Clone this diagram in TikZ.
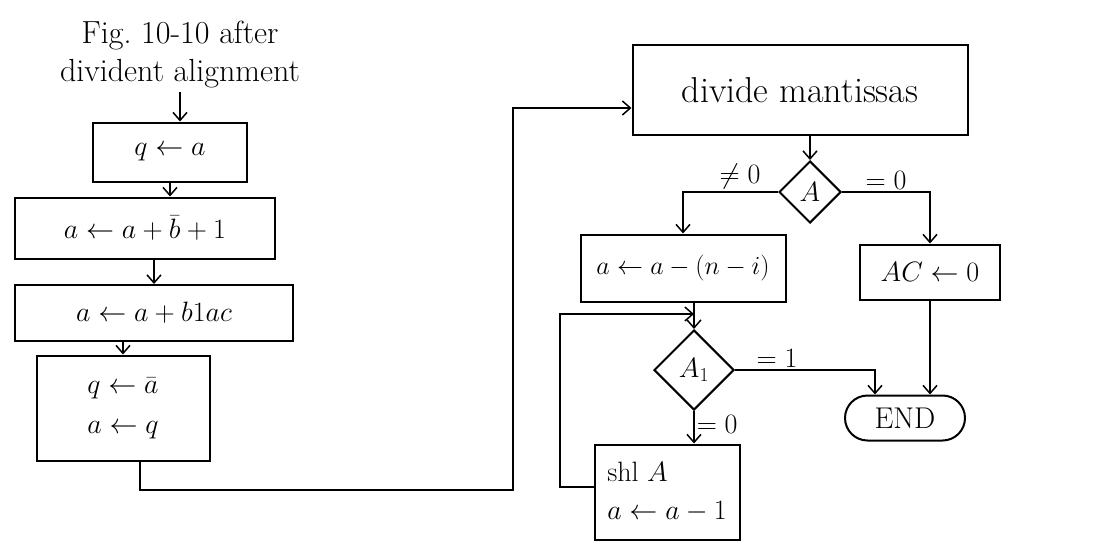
\RequirePackage{fix-cm}
\documentclass[tikz,border=0pt]{standalone}
\usepackage{amsmath}
\usetikzlibrary{arrows.meta,positioning,shapes.geometric,shapes.misc,calc}

\begin{document}
\begin{tikzpicture}[x=1pt, y=-1pt,
  proc/.style={draw, line width=2pt, align=center, inner sep=0pt,
    font=\fontsize{28}{34}\selectfont},
  test/.style={draw, diamond, aspect=1, line width=2pt, inner sep=0pt,
    font=\fontsize{28}{34}\selectfont},
  term/.style={draw, rounded rectangle, line width=2pt, inner sep=0pt,
    font=\fontsize{30}{36}\selectfont},
  note/.style={align=center, font=\fontsize{32}{38}\selectfont},
  lbl/.style={font=\fontsize{28}{32}\selectfont, inner sep=2pt},
  flow/.style={-{Straight Barb[length=8pt, width=14pt, line width=1.5pt]}, line width=1.5pt},
]
  \useasboundingbox (0,0) rectangle (1118,550);

  % left column
  \node[note] (title) at (180,55) {Fig.\ 10-10 after\\ divident alignment};
  \node[proc, minimum width=154, minimum height=59] (qa) at (170,152) {$q \leftarrow a$};
  \node[proc, minimum width=260, minimum height=61] (ab) at (145,228) {$a \leftarrow a + \bar{b} + 1$};
  \node[proc, minimum width=278, minimum height=56] (abc) at (154,313) {$a \leftarrow a + b1ac$};
  \node[proc, minimum width=173, minimum height=105] (swap) at (123,408)
    {$q \leftarrow \bar{a}$\\[6pt] $a \leftarrow q$};

  % right column
  \node[proc, minimum width=335, minimum height=90, font=\fontsize{36}{42}\selectfont] (div) at (800,90) {divide mantissas};
  \node[test, minimum size=62] (A) at (810,192) {$A$};
  \node[proc, minimum width=205, minimum height=67, font=\fontsize{26}{32}\selectfont] (sub) at (683,268) {$a \leftarrow a - (n - i)$};
  \node[proc, minimum width=140, minimum height=55] (clr) at (930,272) {$AC \leftarrow 0$};
  \node[test, minimum size=80] (A1) at (694,370) {$A_1$};
  \node[term, minimum width=120, minimum height=45] (end) at (905,418) {END};
  \node[proc, minimum width=145, minimum height=95, align=left] (shl) at (667,492)
    {shl $A$\\[4pt] $a \leftarrow a - 1$};

  \coordinate (turn) at (513,490);
  \coordinate (loop) at (560,314);

  \draw[flow] (title) -- (title |- qa.north);
  \draw[flow] (qa.south) -- (qa.south |- ab.north);
  \draw[flow] (abc.north |- ab.south) -- (abc.north);
  \draw[flow] (swap.north |- abc.south) -- (swap.north);
  \draw[flow] ([xshift=17]swap.south) |- (turn) |- ([yshift=-18]div.west);

  \draw[flow] (div.south -| A.north) -- (A.north);
  \draw[flow] (A.west) -| node[lbl, pos=0.2, above] {$\neq 0$} (sub.north);
  \draw[flow] (A.east) -| node[lbl, pos=0.25, above] {$=0$} (clr.north);
  \draw[flow] (sub.south -| A1.north) -- (A1.north);
  \draw[flow] (A1.east) -| node[lbl, pos=0.15, above] {$=1$} ([xshift=-30]end.north);
  \draw[flow] (clr.south) -- (clr.south |- end.north);
  \draw[flow] (A1.south) -- node[lbl, pos=0.4, right] {$=0$} (A1.south |- shl.north);
  \draw[flow] ([yshift=5]shl.west) -| (loop) -- (loop -| A1.north);
\end{tikzpicture}
\end{document}
